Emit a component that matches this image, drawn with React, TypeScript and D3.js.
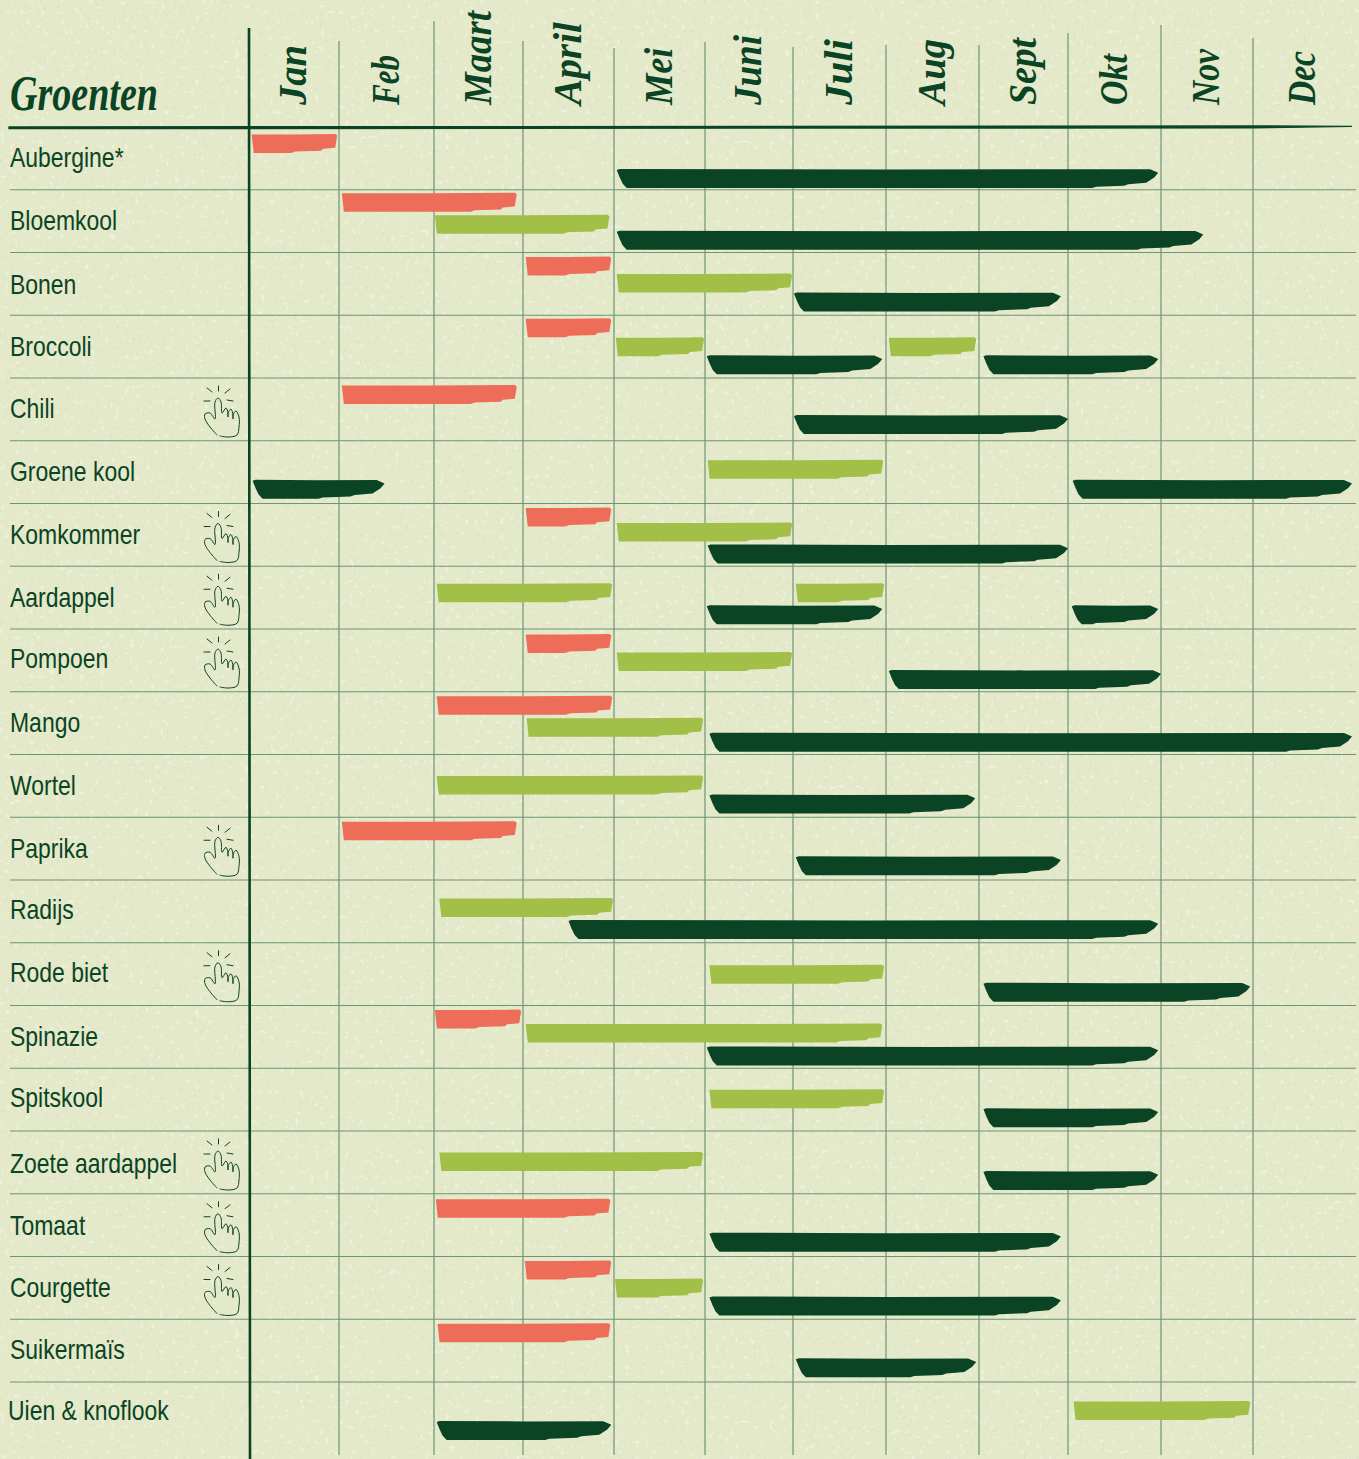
import React, { useEffect, useRef } from 'react';
import * as d3 from 'd3';

const months = ['Jan', 'Feb', 'Maart', 'April', 'Mei', 'Juni', 'Juli', 'Aug', 'Sept', 'Okt', 'Nov', 'Dec'];

const vegetables = [
  'Aubergine*', 'Bloemkool', 'Bonen', 'Broccoli', 'Chili', 'Groene kool', 'Komkommer',
  'Aardappel', 'Pompoen', 'Mango', 'Wortel', 'Paprika', 'Radijs', 'Rode biet', 'Spinazie',
  'Spitskool', 'Zoete aardappel', 'Tomaat', 'Courgette', 'Suikermaïs', 'Uien & knoflook',
];

// vegetables that get the hand icon
const handRows = ['Chili', 'Komkommer', 'Aardappel', 'Pompoen', 'Paprika', 'Rode biet', 'Zoete aardappel', 'Tomaat', 'Courgette'];

// [vegetable, from, to] in months since 1 jan
type Span = [string, number, number];

const sowing: Span[] = [
  ['Aubergine*', 0.03, 0.98],
  ['Bloemkool', 1.03, 2.93],
  ['Bonen', 3.03, 3.97],
  ['Broccoli', 3.03, 3.97],
  ['Chili', 1.03, 2.93],
  ['Komkommer', 3.03, 3.97],
  ['Pompoen', 3.03, 3.97],
  ['Mango', 2.03, 3.98],
  ['Paprika', 1.03, 2.93],
  ['Spinazie', 2.01, 2.98],
  ['Tomaat', 2.02, 3.96],
  ['Courgette', 3.02, 3.97],
  ['Suikermaïs', 2.04, 3.96],
];

const planting: Span[] = [
  ['Bloemkool', 2.01, 3.95],
  ['Bonen', 4.03, 5.99],
  ['Broccoli', 4.02, 4.99],
  ['Broccoli', 7.03, 7.97],
  ['Groene kool', 5.03, 6.97],
  ['Komkommer', 4.03, 5.99],
  ['Aardappel', 2.03, 3.98],
  ['Aardappel', 6.03, 6.98],
  ['Pompoen', 4.03, 5.99],
  ['Mango', 3.04, 4.98],
  ['Wortel', 2.03, 4.98],
  ['Radijs', 2.06, 3.99],
  ['Rode biet', 5.05, 6.98],
  ['Spinazie', 3.03, 6.96],
  ['Spitskool', 5.05, 6.98],
  ['Zoete aardappel', 2.06, 4.98],
  ['Courgette', 4.01, 4.98],
  ['Uien & knoflook', 9.06, 10.97],
];

const harvest: Span[] = [
  ['Aubergine*', 4.03, 9.97],
  ['Bloemkool', 4.03, 10.46],
  ['Bonen', 6.01, 8.92],
  ['Broccoli', 5.02, 6.96],
  ['Broccoli', 8.05, 9.97],
  ['Chili', 6.01, 9.0],
  ['Groene kool', 0.04, 1.48],
  ['Groene kool', 9.05, 12],
  ['Komkommer', 5.03, 9.0],
  ['Aardappel', 5.02, 6.96],
  ['Aardappel', 9.04, 9.97],
  ['Pompoen', 7.03, 10.0],
  ['Mango', 5.05, 12],
  ['Wortel', 5.05, 7.96],
  ['Paprika', 6.03, 8.92],
  ['Radijs', 3.5, 9.97],
  ['Rode biet', 8.05, 10.97],
  ['Spinazie', 5.02, 9.97],
  ['Spitskool', 8.05, 9.97],
  ['Zoete aardappel', 8.05, 9.97],
  ['Tomaat', 5.05, 8.92],
  ['Courgette', 5.05, 8.92],
  ['Suikermaïs', 6.03, 7.97],
  ['Uien & knoflook', 2.03, 3.97],
];

// layout: month edges are hand drawn so they are not evenly spaced
const monthEdges = [249, 339, 434, 523, 614, 705, 793, 886, 979, 1068, 1161, 1253, 1352];
const gridTops = [28, 41, 21, 41, 48, 42, 47, 45, 45, 33, 25, 38];
const monthLengths = [60, 50, 94, 83, 57, 70, 66, 66, 67, 51, 56, 54];

// layout: distance of the brush stroke below the top of its row
const sowOffset: Record<string, number> = {
  'Aubergine*': 7, Bloemkool: 3, Bonen: 4, Broccoli: 3, Chili: 7, Komkommer: 4, Pompoen: 5,
  Mango: 4, Paprika: 4, Spinazie: 4, Tomaat: 5, Courgette: 4, 'Suikermaïs': 4,
};
const plantOffset: Record<string, number> = {
  Bloemkool: 25, Bonen: 21, Broccoli: 22, 'Groene kool': 19, Komkommer: 19, Aardappel: 17, Pompoen: 23,
  Mango: 26, Wortel: 21, Radijs: 18, 'Rode biet': 22, Spinazie: 18, Spitskool: 21, 'Zoete aardappel': 21,
  Courgette: 22, 'Uien & knoflook': 19,
};
const harvestOffset: Record<string, number> = {
  'Aubergine*': 42, Bloemkool: 41, Bonen: 40, Broccoli: 40, Chili: 37, 'Groene kool': 39, Komkommer: 41,
  Aardappel: 39, Pompoen: 41, Mango: 41, Wortel: 40, Paprika: 39, Radijs: 40, 'Rode biet': 40, Spinazie: 41,
  Spitskool: 40, 'Zoete aardappel': 40, Tomaat: 39, Courgette: 40, 'Suikermaïs': 39, 'Uien & knoflook': 39,
};

// layout: the hand lettered labels sit a little off the row centre
const labelNudge: Record<string, [number, number]> = {
  'Aubergine*': [0, -1], Bloemkool: [0, -1], Bonen: [0, 1], Chili: [0, -1], 'Groene kool': [0, -1],
  Pompoen: [0, -2], Mango: [0, -1], Radijs: [0, -2], 'Rode biet': [0, -2], Spitskool: [0, -2],
  'Zoete aardappel': [0, 1], 'Suikermaïs': [0, -1], 'Uien & knoflook': [-2, -3],
};

const WIDTH = 1359;
const HEIGHT = 1459;
const DARK = '#0a4424';
const GRID = '#6d9576';
const LABEL_FONT = '"Liberation Sans", sans-serif';
const SCRIPT_FONT = '"Liberation Serif", serif';

// rough paint stroke, flat brush for the light colours
function softStroke(x0: number, x1: number, y: number, h: number) {
  return [
    [x0, y + 0.5], [(x0 + x1) / 2, y + 0.6], [x1 - 2, y], [x1, y + 1.5],
    [x1 - 2, y + h * 0.72], [x1 - 14, y + h * 0.78], [x1 - 16, y + h * 0.88],
    [x1 - 42, y + h * 0.92], [x1 - 46, y + h], [x0 + 30, y + h],
    [x0 + 2, y + h],
  ] as [number, number][];
}

// dark strokes have a chamfered start and a thin tail on the right
function darkStroke(x0: number, x1: number, y: number, h: number) {
  return [
    [x0, y + 1], [x0 + 3, y], [(x0 + x1) / 2, y + 0.4], [x1 - 8, y + 0.2], [x1, y + h * 0.2],
    [x1 - 4, y + h * 0.45], [x1 - 12, y + h * 0.72], [x1 - 30, y + h * 0.8], [x1 - 34, y + h * 0.88],
    [x1 - 62, y + h * 0.93], [x1 - 66, y + h], [x0 + 10, y + h], [x0 + 6, y + h * 0.78], [x0 + 3, y + h * 0.45],
  ] as [number, number][];
}

export default function App() {
  const svgRef = useRef<SVGSVGElement>(null);

  useEffect(() => {
    document.body.style.margin = '0';
    const svg = d3.select(svgRef.current);
    svg.selectAll('*').remove();

    const x = d3.scaleLinear().domain(d3.range(13)).range(monthEdges);
    const y = d3.scaleBand().domain(vegetables).range([127, 127 + 62.75 * vegetables.length]);
    const bandHeight = y.bandwidth();

    // paper, only the peaks of the noise come through as flecks
    const defs = svg.append('defs');
    const speck = (id: string, freq: number, seed: number, slope: number, cut: number, color: string) => {
      const c = d3.rgb(color);
      const f = defs.append('filter').attr('id', id).attr('x', 0).attr('y', 0).attr('width', '100%').attr('height', '100%');
      f.append('feTurbulence').attr('type', 'fractalNoise').attr('baseFrequency', freq).attr('numOctaves', 3).attr('seed', seed);
      f.append('feColorMatrix').attr('type', 'matrix')
        .attr('values', `0 0 0 0 ${c.r / 255} 0 0 0 0 ${c.g / 255} 0 0 0 0 ${c.b / 255} 0 0 0 ${slope} ${cut}`);
    };
    speck('speck-dark', 0.3, 4, 22, -14.6, '#b9c19b');
    speck('speck-light', 0.2, 11, 20, -13.4, '#edf0d9');

    svg.append('rect').attr('width', WIDTH).attr('height', HEIGHT).attr('fill', '#e4e9c9');
    svg.append('rect').attr('width', WIDTH).attr('height', HEIGHT).attr('filter', 'url(#speck-light)').attr('opacity', 0.5);
    svg.append('rect').attr('width', WIDTH).attr('height', HEIGHT).attr('filter', 'url(#speck-dark)').attr('opacity', 0.7);

    // grid
    const grid = svg.append('g').attr('stroke', GRID).attr('fill', 'none');
    grid.selectAll('line.row')
      .data(vegetables.slice(1))
      .join('line')
      .attr('class', 'row')
      .attr('x1', 10)
      .attr('x2', 1356)
      .attr('y1', d => y(d)!)
      .attr('y2', d => y(d)!)
      .attr('stroke-width', 1.2);
    grid.selectAll('line.col')
      .data(d3.range(1, 12))
      .join('line')
      .attr('class', 'col')
      .attr('x1', d => x(d))
      .attr('x2', d => x(d))
      .attr('y1', d => gridTops[d])
      .attr('y2', HEIGHT - 4)
      .attr('stroke-width', 1.2);

    // header line and first column
    svg.append('path')
      .attr('d', 'M9,127 L1255,126 L1352,126.4 L1255,127.8 L9,128.6 Z')
      .attr('fill', DARK)
      .attr('stroke', DARK)
      .attr('stroke-width', 1.4);
    svg.append('line')
      .attr('x1', x(0)).attr('x2', x(0) + 1)
      .attr('y1', gridTops[0]).attr('y2', HEIGHT)
      .attr('stroke', DARK)
      .attr('stroke-width', 2.6);

    // headers
    svg.append('text')
      .attr('x', 10)
      .attr('y', 110)
      .attr('font-family', SCRIPT_FONT)
      .attr('font-style', 'italic')
      .attr('font-weight', 700)
      .attr('font-size', 50)
      .attr('textLength', 148)
      .attr('lengthAdjust', 'spacingAndGlyphs')
      .attr('fill', DARK)
      .text('Groenten');

    svg.append('g')
      .selectAll('text')
      .data(months)
      .join('text')
      .attr('transform', (_, i) => `translate(${(x(i) + x(i + 1)) / 2 + 12},105) rotate(-90)`)
      .attr('font-family', SCRIPT_FONT)
      .attr('font-style', 'italic')
      .attr('font-weight', 700)
      .attr('font-size', 40)
      .attr('textLength', (_, i) => monthLengths[i])
      .attr('lengthAdjust', 'spacingAndGlyphs')
      .attr('fill', DARK)
      .text(d => d);

    // row labels, squeezed because the original uses a condensed face
    svg.append('g')
      .selectAll('text')
      .data(vegetables)
      .join('text')
      .attr('transform', d => {
        const [dx, dy] = labelNudge[d] ?? [0, 0];
        return `translate(${10 + dx},${y(d)! + bandHeight / 2 + 9.5 + dy}) scale(0.82,1)`;
      })
      .attr('font-family', LABEL_FONT)
      .attr('font-size', 28)
      .attr('fill', DARK)
      .text(d => d);

    // hand icons
    const curved = d3.line().curve(d3.curveCatmullRom.alpha(0.5));
    const hand = curved([
      [27, 60], [20, 52], [15, 44], [15, 39], [20, 38], [25, 44], [25, 27], [28, 23], [31, 27], [32, 38],
      [36, 33], [38, 38], [38, 42], [38, 38], [41, 34], [43, 40], [43, 44], [43, 40], [46, 36], [49, 42], [49, 52], [47, 60], [38, 62], [30, 61],
    ]);
    const rays = ['M17,13 L22,17', 'M28.5,11 L28.5,16', 'M40,14 L35,18', 'M14,26 L20,26', 'M37,25 L43,26'];
    const hands = svg.append('g')
      .selectAll('g')
      .data(handRows)
      .join('g')
      .attr('transform', d => `translate(190,${y(d)! - 3})`)
      .attr('fill', 'none')
      .attr('stroke', DARK)
      .attr('stroke-width', 1)
      .attr('stroke-linecap', 'round');
    hands.append('path').attr('d', hand);
    hands.selectAll('path.ray').data(rays).join('path').attr('class', 'ray').attr('d', d => d);

    // brush strokes
    const polygon = d3.line();
    const BAR_HEIGHT = 19;
    const drawBars = (data: Span[], offsets: Record<string, number>, fill: string, shape: typeof softStroke) => {
      svg.append('g')
        .selectAll('path')
        .data(data)
        .join('path')
        .attr('fill', fill)
        .attr('d', ([veg, from, to]) => polygon(shape(x(from), x(to), y(veg)! + offsets[veg], BAR_HEIGHT)) + 'Z');
    };
    drawBars(sowing, sowOffset, '#ee6d58', softStroke);
    drawBars(planting, plantOffset, '#a2bf48', softStroke);
    drawBars(harvest, harvestOffset, DARK, darkStroke);
  }, []);

  return <svg ref={svgRef} width={WIDTH} height={HEIGHT} style={{ display: 'block' }} />;
}
